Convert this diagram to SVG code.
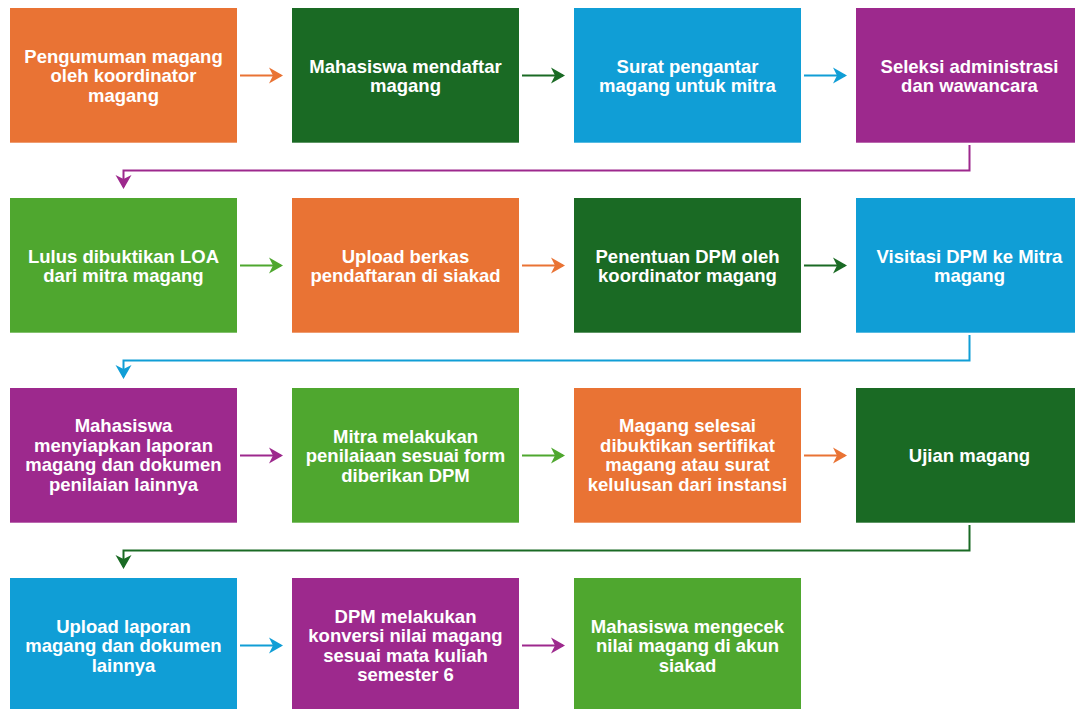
<svg xmlns="http://www.w3.org/2000/svg" width="1075" height="709" viewBox="0 0 1075 709">
<style>
.n text{font-family:"Liberation Sans",Arial,sans-serif;font-weight:bold;font-size:18.5px;fill:#fff;text-anchor:middle}
.c path{fill:none;stroke-width:2}
.or{fill:#E97334}.dg{fill:#1A6A24}.bl{fill:#109ED6}.pu{fill:#9D298D}.lg{fill:#4FA72F}
</style>
<defs>
<marker id="aor" markerUnits="userSpaceOnUse" markerWidth="20" markerHeight="20" viewBox="-14 -10 20 20" refX="0" refY="0" orient="auto"><path d="M2,0 L-12,-8 L-8,0 L-12,8 Z" fill="#E97334"/></marker>
<marker id="adg" markerUnits="userSpaceOnUse" markerWidth="20" markerHeight="20" viewBox="-14 -10 20 20" refX="0" refY="0" orient="auto"><path d="M2,0 L-12,-8 L-8,0 L-12,8 Z" fill="#1A6A24"/></marker>
<marker id="abl" markerUnits="userSpaceOnUse" markerWidth="20" markerHeight="20" viewBox="-14 -10 20 20" refX="0" refY="0" orient="auto"><path d="M2,0 L-12,-8 L-8,0 L-12,8 Z" fill="#109ED6"/></marker>
<marker id="apu" markerUnits="userSpaceOnUse" markerWidth="20" markerHeight="20" viewBox="-14 -10 20 20" refX="0" refY="0" orient="auto"><path d="M2,0 L-12,-8 L-8,0 L-12,8 Z" fill="#9D298D"/></marker>
<marker id="alg" markerUnits="userSpaceOnUse" markerWidth="20" markerHeight="20" viewBox="-14 -10 20 20" refX="0" refY="0" orient="auto"><path d="M2,0 L-12,-8 L-8,0 L-12,8 Z" fill="#4FA72F"/></marker>
</defs>
<rect width="1075" height="709" fill="#fff"/>

<g id="n1" class="n"><rect class="or" x="10" y="8" width="227" height="134.7"/><text x="123.5" y="62.8">Pengumuman magang</text><text x="123.5" y="82.3">oleh koordinator</text><text x="123.5" y="101.8">magang</text></g>
<g id="n2" class="n"><rect class="dg" x="292" y="8" width="227" height="134.7"/><text x="405.5" y="72.5">Mahasiswa mendaftar</text><text x="405.5" y="92">magang</text></g>
<g id="n3" class="n"><rect class="bl" x="574" y="8" width="227" height="134.7"/><text x="687.5" y="72.5">Surat pengantar</text><text x="687.5" y="92">magang untuk mitra</text></g>
<g id="n4" class="n"><rect class="pu" x="856" y="8" width="227" height="134.7"/><text x="969.5" y="72.5">Seleksi administrasi</text><text x="969.5" y="92">dan wawancara</text></g>

<g id="n5" class="n"><rect class="lg" x="10" y="198" width="227" height="134.7"/><text x="123.5" y="262.5">Lulus dibuktikan LOA</text><text x="123.5" y="282">dari mitra magang</text></g>
<g id="n6" class="n"><rect class="or" x="292" y="198" width="227" height="134.7"/><text x="405.5" y="262.5">Upload berkas</text><text x="405.5" y="282">pendaftaran di siakad</text></g>
<g id="n7" class="n"><rect class="dg" x="574" y="198" width="227" height="134.7"/><text x="687.5" y="262.5">Penentuan DPM oleh</text><text x="687.5" y="282">koordinator magang</text></g>
<g id="n8" class="n"><rect class="bl" x="856" y="198" width="227" height="134.7"/><text x="969.5" y="262.5">Visitasi DPM ke Mitra</text><text x="969.5" y="282">magang</text></g>

<g id="n9" class="n"><rect class="pu" x="10" y="388" width="227" height="134.7"/><text x="123.5" y="432">Mahasiswa</text><text x="123.5" y="451.5">menyiapkan laporan</text><text x="123.5" y="471">magang dan dokumen</text><text x="123.5" y="490.5">penilaian lainnya</text></g>
<g id="n10" class="n"><rect class="lg" x="292" y="388" width="227" height="134.7"/><text x="405.5" y="442.8">Mitra melakukan</text><text x="405.5" y="462.3">penilaiaan sesuai form</text><text x="405.5" y="481.8">diberikan DPM</text></g>
<g id="n11" class="n"><rect class="or" x="574" y="388" width="227" height="134.7"/><text x="687.5" y="432">Magang selesai</text><text x="687.5" y="451.5">dibuktikan sertifikat</text><text x="687.5" y="471">magang atau surat</text><text x="687.5" y="490.5">kelulusan dari instansi</text></g>
<g id="n12" class="n"><rect class="dg" x="856" y="388" width="227" height="134.7"/><text x="969.5" y="462.3">Ujian magang</text></g>

<g id="n13" class="n"><rect class="bl" x="10" y="578" width="227" height="134.7"/><text x="123.5" y="632.8">Upload laporan</text><text x="123.5" y="652.3">magang dan dokumen</text><text x="123.5" y="671.8">lainnya</text></g>
<g id="n14" class="n"><rect class="pu" x="292" y="578" width="227" height="134.7"/><text x="405.5" y="622.5">DPM melakukan</text><text x="405.5" y="642">konversi nilai magang</text><text x="405.5" y="661.5">sesuai mata kuliah</text><text x="405.5" y="681">semester 6</text></g>
<g id="n15" class="n"><rect class="lg" x="574" y="578" width="227" height="134.7"/><text x="687.5" y="632.8">Mahasiswa mengecek</text><text x="687.5" y="652.3">nilai magang di akun</text><text x="687.5" y="671.8">siakad</text></g>

<g id="connectors" class="c">
<path d="M240,75.5 H281" stroke="#E97334" marker-end="url(#aor)"/>
<path d="M522,75.5 H563" stroke="#1A6A24" marker-end="url(#adg)"/>
<path d="M804,75.5 H845" stroke="#109ED6" marker-end="url(#abl)"/>
<path d="M969.5,145 V170.5 H123.5 V187" stroke="#9D298D" stroke-width="2.5" marker-end="url(#apu)"/>

<path d="M240,265.5 H281" stroke="#4FA72F" marker-end="url(#alg)"/>
<path d="M522,265.5 H563" stroke="#E97334" marker-end="url(#aor)"/>
<path d="M804,265.5 H845" stroke="#1A6A24" marker-end="url(#adg)"/>
<path d="M969.5,335 V360.5 H123.5 V377" stroke="#109ED6" stroke-width="2.5" marker-end="url(#abl)"/>

<path d="M240,455.5 H281" stroke="#9D298D" marker-end="url(#apu)"/>
<path d="M522,455.5 H563" stroke="#4FA72F" marker-end="url(#alg)"/>
<path d="M804,455.5 H845" stroke="#E97334" marker-end="url(#aor)"/>
<path d="M969.5,525 V550.5 H123.5 V567" stroke="#1A6A24" stroke-width="2.5" marker-end="url(#adg)"/>

<path d="M240,645.5 H281" stroke="#109ED6" marker-end="url(#abl)"/>
<path d="M522,645.5 H563" stroke="#9D298D" marker-end="url(#apu)"/>
</g>
</svg>
